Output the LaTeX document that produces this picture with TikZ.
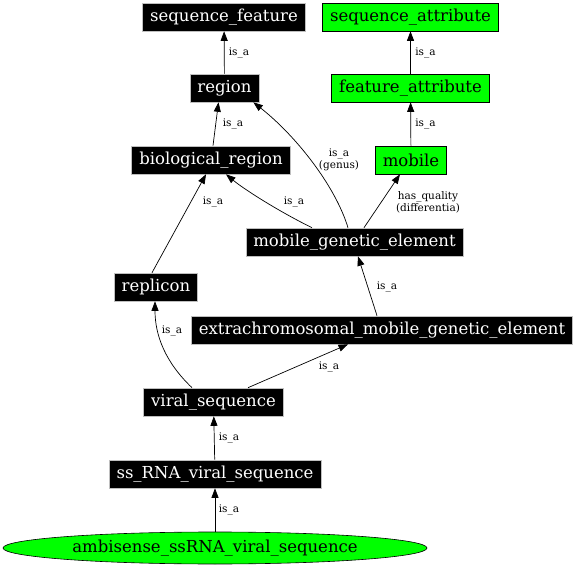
\documentclass[tikz,border=0pt]{standalone}
\usepackage{fontspec}
\setmainfont{DejaVu Serif}
\usetikzlibrary{arrows.meta,shapes.geometric}
\begin{document}
\begin{tikzpicture}[x=1pt,y=-1pt,
  blk/.style={rectangle, fill=black, draw=gray!50, text=white, font=\fontsize{16.5}{19}\selectfont, minimum height=28pt, inner xsep=7.5pt, inner ysep=0pt, line width=0.6pt},
  grn/.style={rectangle, fill=green, draw=black, text=black, font=\fontsize{16.5}{19}\selectfont, minimum height=28pt, inner xsep=7.5pt, inner ysep=0pt, line width=0.6pt},
  edge/.style={-{Triangle[length=9.5pt,width=7pt]}, line width=0.7pt},
  lbl/.style={font=\fontsize{10.5}{12}\selectfont, align=center, inner sep=0pt}]
\useasboundingbox (0,0) rectangle (576,569);
\node[blk] (sf) at (224,17) {sequence\_feature};
\node[grn] (sa) at (410.5,17) {sequence\_attribute};
\node[blk] (reg) at (224.5,88) {region};
\node[grn] (fa) at (410.5,88) {feature\_attribute};
\node[blk] (bio) at (211,160) {biological\_region};
\node[grn] (mob) at (411,160) {mobile};
\node[blk] (mge) at (354.5,242) {mobile\_genetic\_element};
\node[blk] (rep) at (156,287) {replicon};
\node[blk] (ext) at (382,330) {extrachromosomal\_mobile\_genetic\_element};
\node[blk] (vir) at (213.5,402) {viral\_sequence};
\node[blk] (ss) at (215,474) {ss\_RNA\_viral\_sequence};
\node[ellipse, fill=green, draw=black, font=\fontsize{16.5}{19}\selectfont, minimum width=424pt, minimum height=32pt, inner sep=0pt, line width=0.6pt] (amb) at (215,548) {ambisense\_ssRNA\_viral\_sequence};

\draw[edge] (reg) -- (sf);
\node[lbl] (l1) at (239,53) {is\_a};
\draw[edge] (fa) -- (sa);
\node[lbl] (l2) at (425.5,53) {is\_a};
\draw[edge] ([xshift=2pt]bio.north) -- ([xshift=-6pt]reg.south);
\node[lbl] (l3) at (233,124) {is\_a};
\draw[edge] (mob) -- (fa);
\node[lbl] (l4) at (425.5,124) {is\_a};
\draw[edge] ([xshift=-6.5pt]mge.north) .. controls (335,185) and (295,135) .. ([xshift=-6pt]reg.south east);
\node[lbl] (l5) at (339,160) {is\_a\\(genus)};
\draw[edge] ([xshift=-42.5pt]mge.north) .. controls (280,212) and (245,190) .. ([xshift=15pt]bio.south);
\node[lbl] (l6) at (294,202) {is\_a};
\draw[edge] ([xshift=9.5pt]mge.north) -- ([xshift=-11pt]mob.south);
\node[lbl] (l7) at (428,202) {has\_quality\\(differentia)};
\draw[edge] ([xshift=-4pt]rep.north) -- ([xshift=-5pt]bio.south);
\node[lbl] (l8) at (213,202) {is\_a};
\draw[edge] ([xshift=-5pt]ext.north) -- ([xshift=3.5pt]mge.south);
\node[lbl] (l9) at (387,287) {is\_a};
\draw[edge] ([xshift=-21.5pt]vir.north) .. controls (165,362) and (155,335) .. ([xshift=-1pt]rep.south);
\node[lbl] (l10) at (172,331) {is\_a};
\draw[edge] ([xshift=34.5pt]vir.north) -- ([xshift=-34pt]ext.south);
\node[lbl] (l11) at (329,367) {is\_a};
\draw[edge] (ss) -- (vir);
\node[lbl] (l12) at (229,438) {is\_a};
\draw[edge] (amb) -- (ss);
\node[lbl] (l13) at (229,510) {is\_a};
\end{tikzpicture}
\end{document}
